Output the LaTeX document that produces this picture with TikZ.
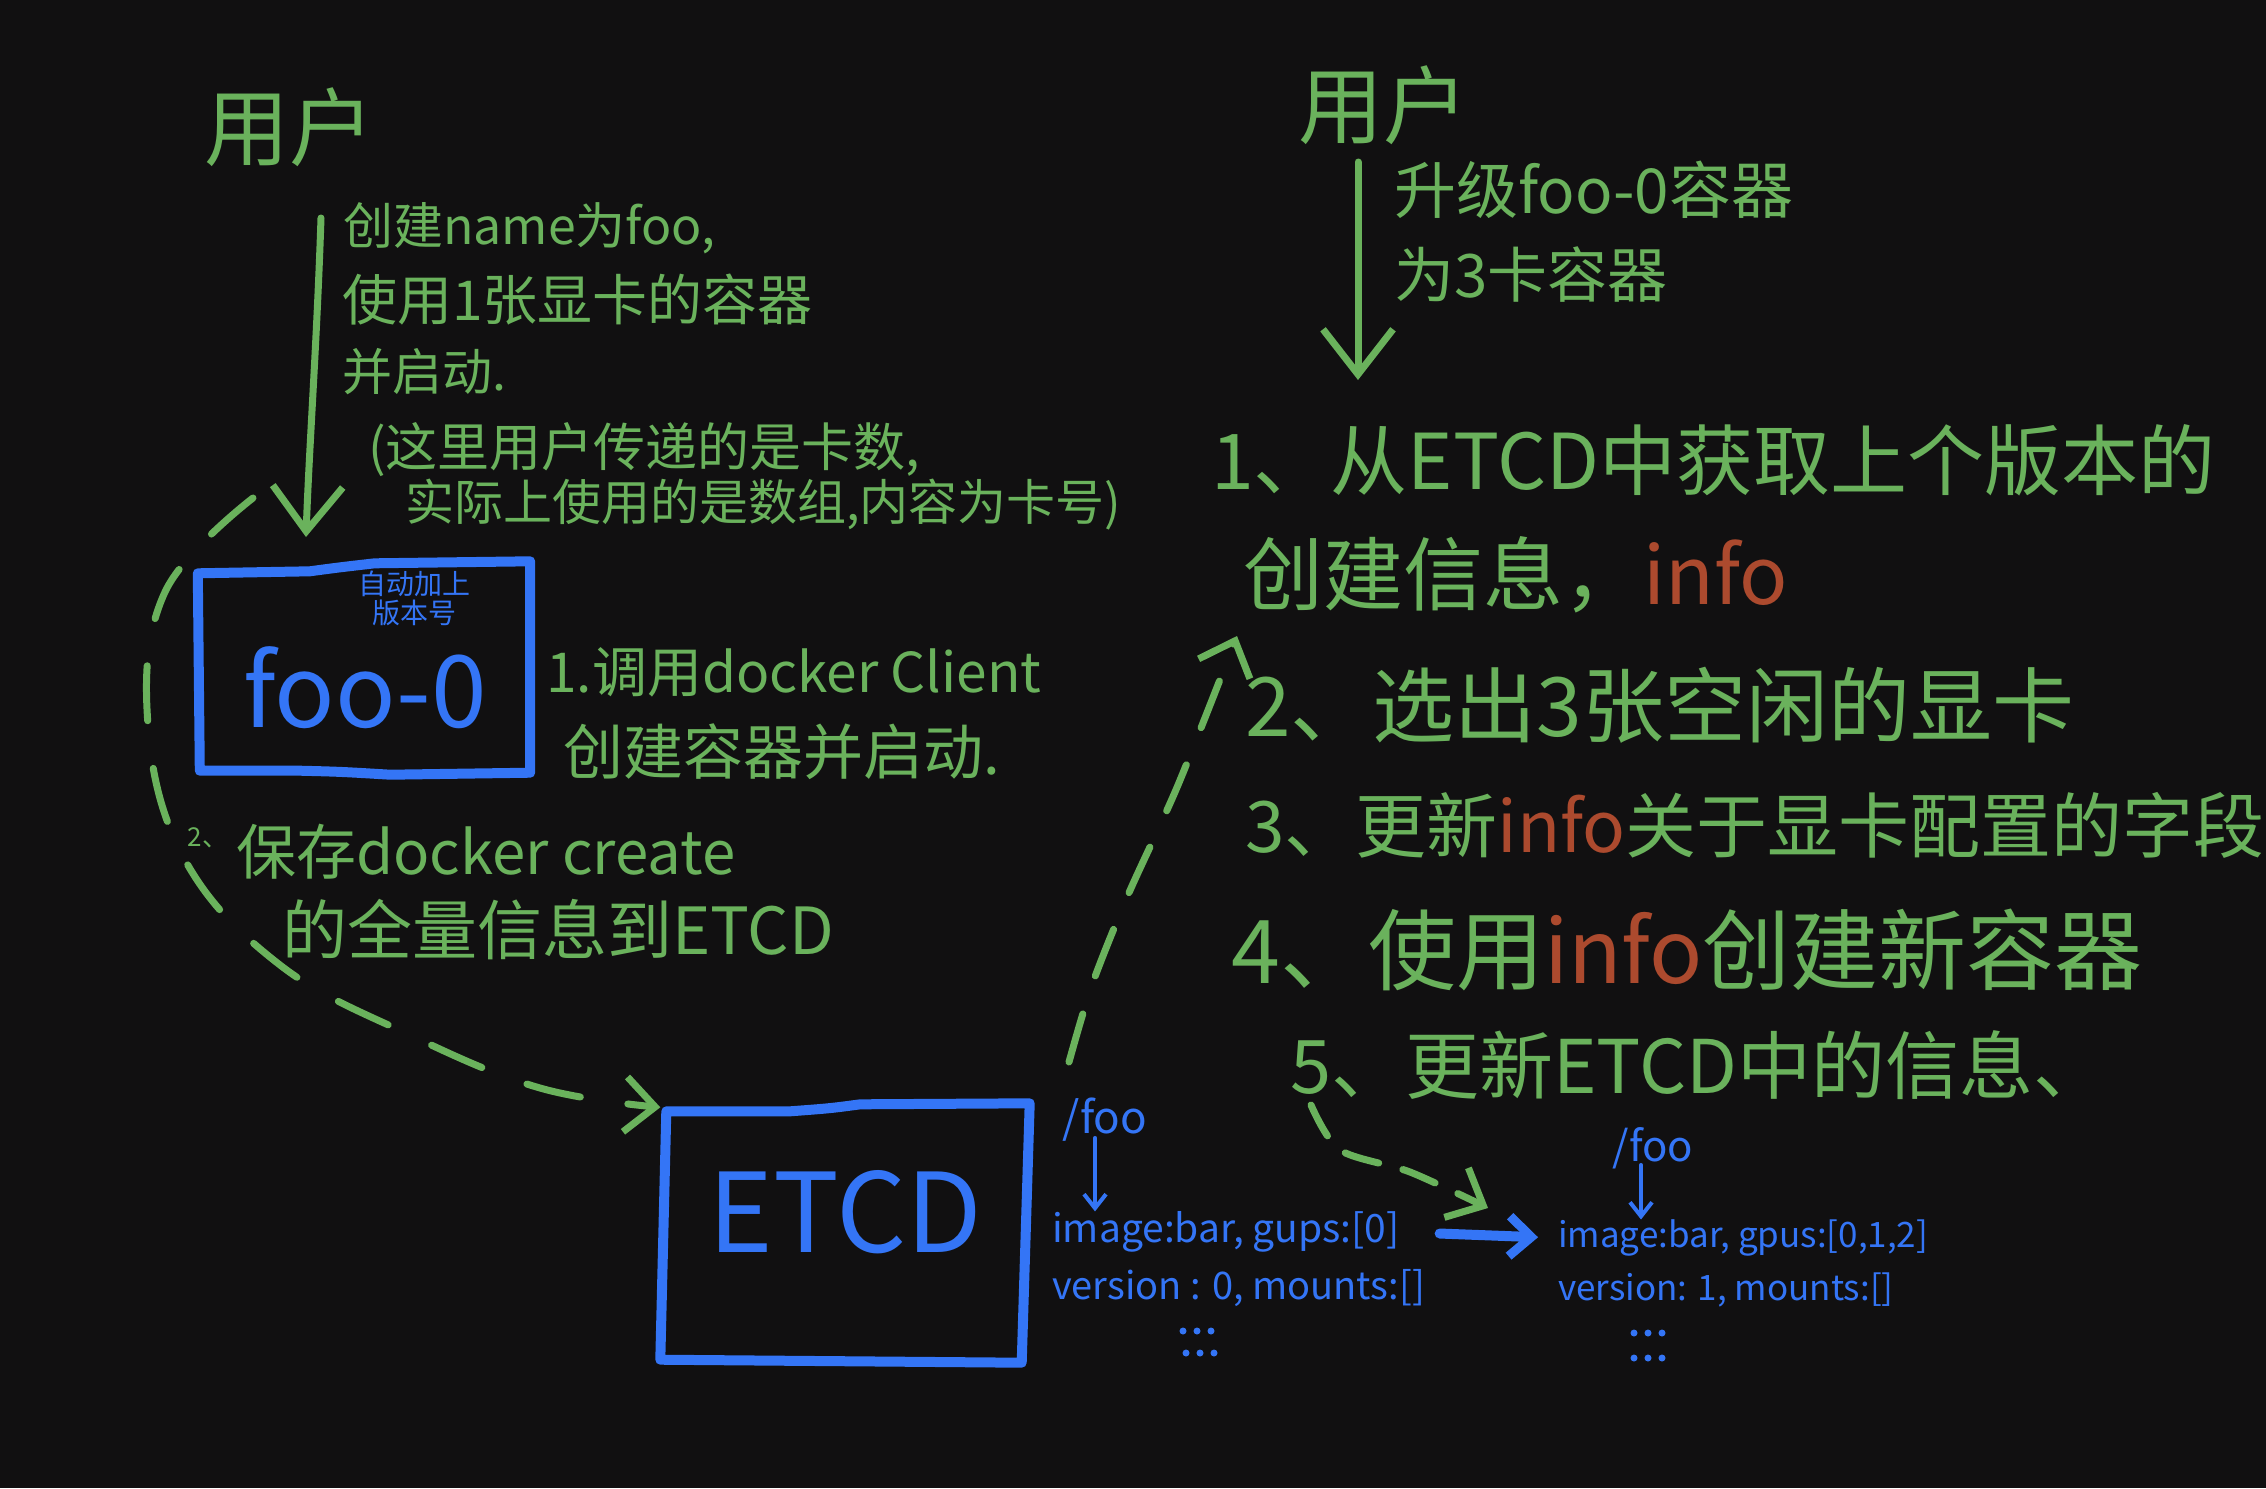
\documentclass[tikz,border=0pt]{standalone}
\usepackage{fontspec}
\setmainfont{Noto Sans CJK SC}
\usetikzlibrary{arrows.meta}
\definecolor{bgc}{RGB}{17,16,17}
\definecolor{hgreen}{RGB}{106,178,92}
\definecolor{hblue}{RGB}{52,117,246}
\definecolor{hred}{RGB}{172,74,46}
\newcommand{\fsz}[1]{\fontsize{#1pt}{#1pt}\selectfont}
\begin{document}
\begin{tikzpicture}[x=1pt,y=-1pt,
  gtxt/.style={text=hgreen, inner sep=0pt},
  btxt/.style={text=hblue, inner sep=0pt},
  garrow/.style={draw=hgreen, line width=7pt, line cap=round, line join=round, -{Straight Barb[length=45pt,width=70pt,line width=7pt]}},
  boxline/.style={draw=hblue, line width=10pt, line cap=round, line join=round},
  dashg/.style={draw=hgreen, line width=7pt, line cap=round, dash pattern=on 55pt off 48pt},
  gtip/.style={-{Straight Barb[length=30pt,width=55pt,line width=7pt]}},
  barrow/.style={draw=hblue, line width=4pt, line cap=round, -{Straight Barb[length=14pt,width=22pt,line width=4pt]}},
  bigbarrow/.style={draw=hblue, line width=10pt, line cap=round, -{Straight Barb[length=22pt,width=40pt,line width=9pt]}},
  dotc/.style={fill=hblue}
]
\fill[bgc] (0,0) rectangle (2266,1488);
\useasboundingbox (0,0) rectangle (2266,1488);

% ---------- left side ----------
\node[gtxt,font=\fsz{85}] (userL) at (289,127) {用户};
\node[gtxt,font=\fsz{50},anchor=west] (l1) at (343,228) {创建name为foo,};
\node[gtxt,font=\fsz{55},anchor=west] (l2) at (342,300) {使用1张显卡的容器};
\node[gtxt,font=\fsz{50},anchor=west] (l3) at (342,372) {并启动.};
\node[gtxt,font=\fsz{52},anchor=west] (l4) at (368,450) {(这里用户传递的是卡数,};
\node[gtxt,font=\fsz{49},anchor=west] (l5) at (405,505) {实际上使用的是数组,内容为卡号)};

\coordinate (aLs) at (321,218);
\coordinate (aLe) at (306,537);
\draw[garrow] (aLs) .. controls (317,340) and (309,450) .. (aLe);

% foo-0 box
\node[minimum width=330pt, minimum height=205pt, inner sep=0pt] (foo) at (365,668) {};
\draw[boxline] ([xshift=-2pt,yshift=-8pt]foo.north west) -- ([xshift=110pt,yshift=-6pt]foo.north west)
  .. controls ([xshift=140pt,yshift=-2pt]foo.north west) .. ([xshift=175pt,yshift=2pt]foo.north west)
  -- ([yshift=4pt]foo.north east) -- ([yshift=-2pt]foo.south east)
  -- ([xshift=-140pt,yshift=-4pt]foo.south east) .. controls ([xshift=-190pt,yshift=-1pt]foo.south east) .. ([xshift=-230pt,yshift=0pt]foo.south east)
  -- (foo.south west) -- cycle;
\node[btxt,font=\fsz{100}] (footxt) at (365,688) {foo-0};
\node[btxt,font=\fsz{28},align=center] (note) at (414,598) {自动加上\\[1pt]版本号};

\node[gtxt,font=\fsz{55},anchor=west] (c1) at (546,672) {1.调用docker Client};
\node[gtxt,font=\fsz{60},anchor=west] (c2) at (563,752) {创建容器并启动.};

\node[gtxt,font=\fsz{26}] (n2) at (208,838) {2、};
\node[gtxt,font=\fsz{60},anchor=west] (s1l) at (236,852) {保存docker create};
\node[gtxt,font=\fsz{65},anchor=west] (s2l) at (282,930) {的全量信息到ETCD};

% ETCD box
\node[minimum width=365pt, minimum height=255pt, inner sep=0pt] (etcd) at (843,1235) {};
\draw[boxline] ([xshift=6pt,yshift=-4pt]etcd.north west) -- ([xshift=130pt,yshift=-4pt]etcd.north west)
  .. controls ([xshift=170pt,yshift=-1pt]etcd.north west) .. ([xshift=200pt,yshift=3pt]etcd.north west)
  -- ([xshift=4pt,yshift=4pt]etcd.north east) -- ([xshift=-4pt,yshift=0pt]etcd.south east)
  -- ([yshift=3pt]etcd.south west) -- cycle;
\node[btxt,font=\fsz{110}] (etcdtxt) at (845,1212) {ETCD};

% left dashed arrow: foo -> ETCD
\coordinate (dL0) at (253,498);
\draw[dashg,gtip] plot[smooth, tension=0.65] coordinates {(dL0) (165,592) (148,725) (185,860) (280,965) (410,1035) (540,1088) (etcd.north west)};

% ---------- data ----------
\node[btxt,font=\fsz{44}] (dl0) at (1105,1120) {/foo};
\node[btxt,font=\fsz{39},anchor=west] (dl1) at (1052,1232) {image:bar, gups:[0]};
\node[btxt,font=\fsz{38},anchor=west] (dl2) at (1052,1288) {version : 0, mounts:[]};
\foreach \x in {1183,1197,1211} {
  \fill[dotc] (\x,1331) circle (3.5pt);
  \fill[dotc] (\x+3,1353) circle (3.5pt);
}
\draw[barrow] ([xshift=-10pt,yshift=4pt]dl0.south) -- ([xshift=-10pt]dl0.south |- dl1.north);

\node[btxt,font=\fsz{42}] (dr0) at (1653,1148) {/foo};
\node[btxt,font=\fsz{35},anchor=west] (dr1) at (1558,1238) {image:bar, gpus:[0,1,2]};
\node[btxt,font=\fsz{35},anchor=west] (dr2) at (1558,1290) {version: 1, mounts:[]};
\foreach \x in {1634,1648,1662} {
  \fill[dotc] (\x,1333) circle (3.5pt);
  \fill[dotc] (\x,1358) circle (3.5pt);
}
\draw[barrow] ([xshift=-12pt,yshift=4pt]dr0.south) -- ([xshift=-12pt]dr0.south |- dr1.north);

\draw[bigbarrow, shorten <=40pt, shorten >=20pt] (dl1.east) -- (dr1.west);

% ---------- right side ----------
\node[gtxt,font=\fsz{85}] (userR) at (1383,105) {用户};
\coordinate (aRs) at (1358,162);
\coordinate (aRe) at (1358,380);
\draw[garrow] (aRs) -- (aRe);
\node[gtxt,font=\fsz{62},anchor=west] (r1) at (1394,190) {升级foo-0容器};
\node[gtxt,font=\fsz{60},anchor=west] (r2) at (1394,275) {为3卡容器};

\node[gtxt,font=\fsz{77},anchor=west] (t1) at (1211,460) {1、从ETCD中获取上个版本的};
\node[gtxt,font=\fsz{80},anchor=west] (t1b) at (1243,575) {创建信息，\textcolor{hred}{info}};
\node[gtxt,font=\fsz{82},anchor=west] (t2) at (1245,705) {2、选出3张空闲的显卡};
\node[gtxt,font=\fsz{71},anchor=west] (t3) at (1245,825) {3、更新\textcolor{hred}{info}关于显卡配置的字段};
\node[gtxt,font=\fsz{88},anchor=west] (t4) at (1231,950) {4、使用\textcolor{hred}{info}创建新容器};
\node[gtxt,font=\fsz{74},anchor=west] (t5) at (1290,1065) {5、更新ETCD中的信息、};

% dashed arrow ETCD -> steps
\coordinate (dR0) at (1069,1062);
\coordinate (dR1) at (1237,636);
\draw[dashg,gtip,dash pattern=on 50pt off 40pt] plot[smooth] coordinates {(dR0) (1092,985) (1128,895) (1178,785) (dR1)};

% dashed arrow step 5 -> data arrow
\coordinate (dB0) at (1311,1105);
\coordinate (dB1) at (1488,1208);
\draw[dashg,gtip,dash pattern=on 35pt off 25pt] plot[smooth] coordinates {(dB0) (1340,1150) (1410,1172) (dB1)};
\end{tikzpicture}
\end{document}
